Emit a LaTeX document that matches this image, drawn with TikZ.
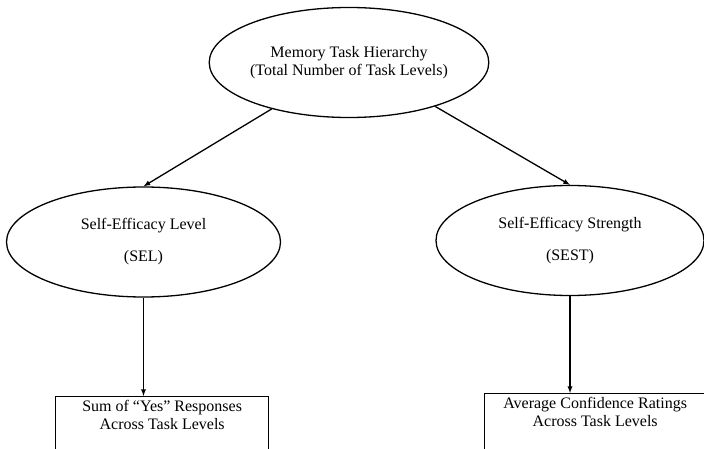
\documentclass[tikz,border=0pt]{standalone}
\usepackage{fontspec}
\setmainfont{Liberation Serif}
\usetikzlibrary{arrows,shapes.geometric}

\begin{document}
\begin{tikzpicture}[x=1pt,y=-1pt,line width=1.3pt,
  oval/.style={draw,ellipse,inner sep=0pt,minimum width=274pt,minimum height=110pt,
    align=center,font=\fontsize{16}{18}\selectfont},
  score/.style={draw,rectangle,anchor=north west,inner sep=4pt,align=center,
    font=\fontsize{16}{17.5}\selectfont}]
\useasboundingbox (0,0) rectangle (704,449);
% the three ovals
\node[oval] (mth) at (349,62.5) {Memory Task Hierarchy\\(Total Number of Task Levels)};
\node[oval] (sel) at (143.5,242) {Self-Efficacy Level\\[14pt](SEL)};
\node[oval,minimum width=268pt] (sest) at (570,240.5) {Self-Efficacy Strength\\[14pt](SEST)};
% the two scores, cut off at the page edge
\node[score,minimum width=213pt] (sum) at (55,396)
  {Sum of “Yes” Responses\\Across Task Levels\\\rule{0pt}{40pt}};
\node[score,minimum width=221pt] (avg) at (484,393)
  {Average Confidence Ratings\\Across Task Levels\\\rule{0pt}{40pt}};
% arrows
\draw[-latex] (mth.-149.4) -- (sel.north);
\draw[-latex] (mth.-27) -- (sest.north);
\draw[-latex] (sel.south) -- (sel.south |- sum.north);
\draw[-latex] (sest.south) -- (sest.south |- avg.north);
\end{tikzpicture}
\end{document}
